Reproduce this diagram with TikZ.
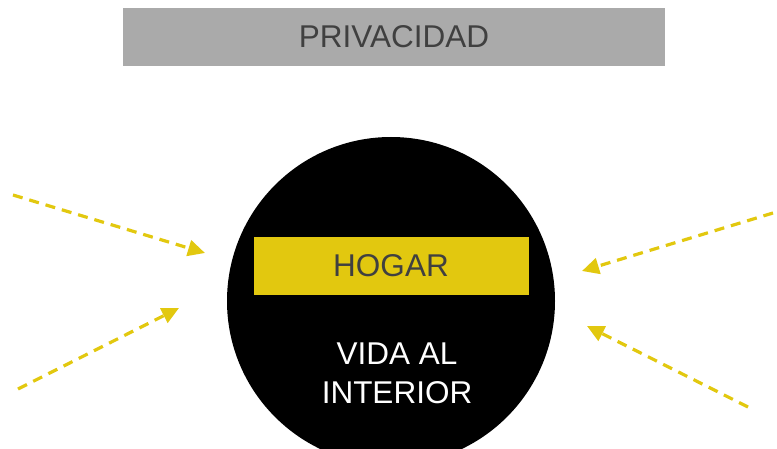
\documentclass[tikz,border=0pt]{standalone}
\usepackage{fontspec}
\setmainfont{Liberation Sans}
\usetikzlibrary{arrows.meta}
\definecolor{bannergray}{HTML}{AAAAAA}
\definecolor{hogaryellow}{HTML}{E2C80F}
\definecolor{textgray}{HTML}{404040}

\begin{document}
\begin{tikzpicture}[x=1pt, y=-1pt,
  lbl/.style={font=\fontsize{31.5}{39}\selectfont, inner sep=0pt},
  band/.style={lbl, text=textgray, minimum height=58pt},
  arr/.style={-{Triangle[length=17pt, width=16pt]}, line width=3.2pt, hogaryellow, dash pattern=on 10pt off 7pt}]
\useasboundingbox (0,0) rectangle (777,449);
\node[band, fill=bannergray, minimum width=542pt] (priv) at (394,37) {PRIVACIDAD};
\node[circle, fill=black, minimum size=328pt, inner sep=0pt] (home) at (391,301) {};
\node[band, fill=hogaryellow, minimum width=275pt] (hogar) at (391,266) {HOGAR};
\node[lbl, text=white, align=center] (vida) at (397,373) {VIDA AL\\INTERIOR};
% flechas hacia el hogar
\coordinate (upL) at (13,195);   \coordinate (upLtip) at (205,253);
\coordinate (loL) at (18,389);   \coordinate (loLtip) at (179,308);
\coordinate (upR) at (773,213);  \coordinate (upRtip) at (582,271);
\coordinate (loR) at (748,407);  \coordinate (loRtip) at (587,326);
\foreach \a/\b in {upL/upLtip, loL/loLtip, upR/upRtip, loR/loRtip} \draw[arr] (\a) -- (\b);
\end{tikzpicture}
\end{document}
